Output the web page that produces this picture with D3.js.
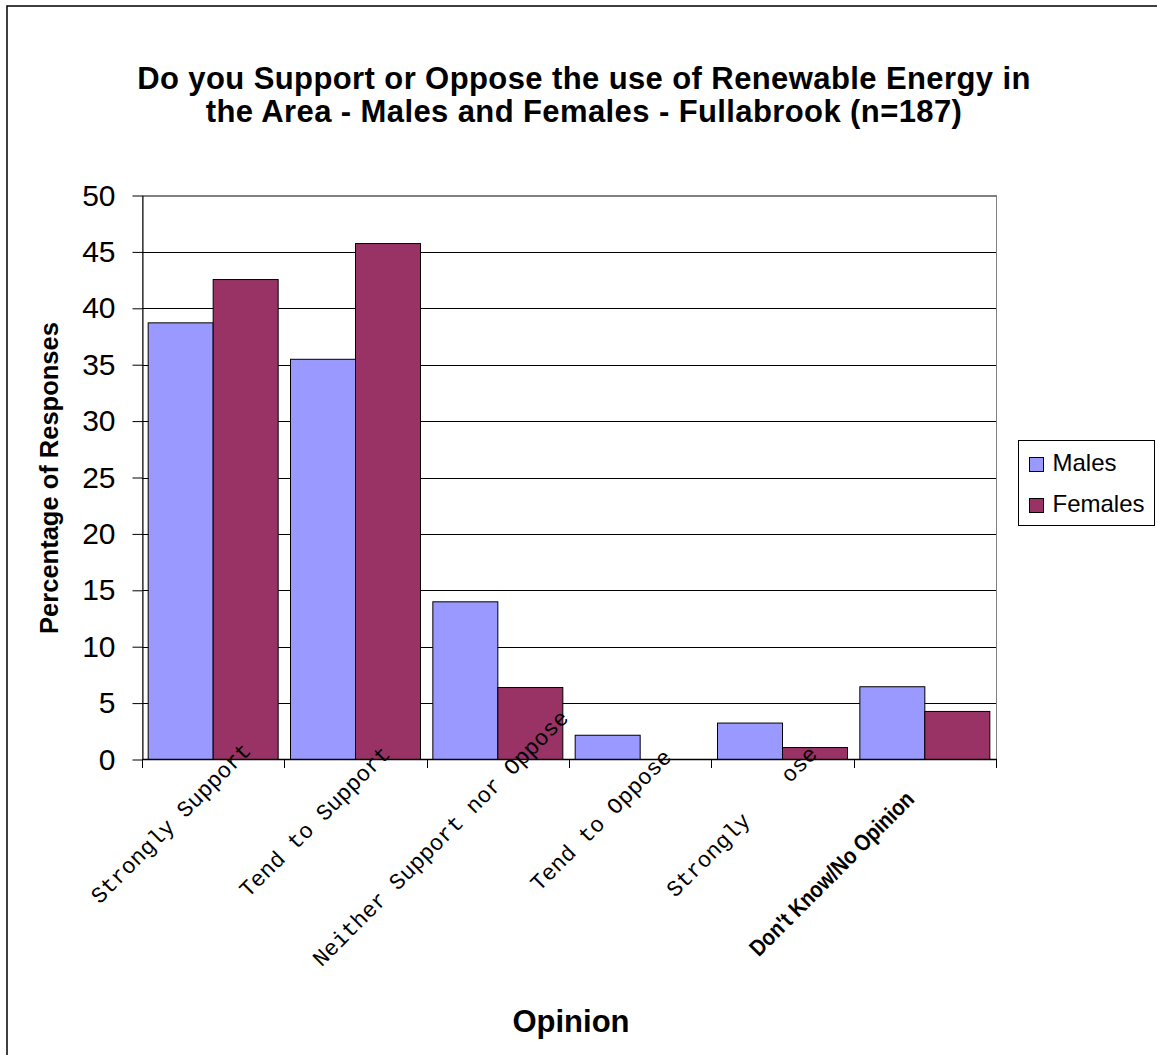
<!DOCTYPE html>
<html>
<head>
<meta charset="utf-8">
<script src="https://cdn.jsdelivr.net/npm/d3@7"></script>
<style>
  html, body { margin: 0; padding: 0; background: #fff; }
  svg { display: block; }
</style>
</head>
<body>
<script>
// ---------------- data ----------------
const titleLines = [
  "Do you Support or Oppose the use of Renewable Energy in",
  "the Area - Males and Females - Fullabrook (n=187)"
];
const categories = [
  "Strongly Support",
  "Tend to Support",
  "Neither Support nor Oppose",
  "Tend to Oppose",
  "Strongly Oppose",
  "Don't Know/No Opinion"
];
const series = ["Males", "Females"];
const males   = [38.71, 35.48, 13.98, 2.15, 3.23, 6.45];
const females = [42.55, 45.74, 6.38, 0, 1.06, 4.26];
const yTicks = [0, 5, 10, 15, 20, 25, 30, 35, 40, 45, 50];
const yAxisTitle = "Percentage of Responses";
const xAxisTitle = "Opinion";

// ---------------- layout ----------------
const W = 1157, H = 1055;
const plot = { left: 142, right: 996, top: 196, bottom: 760 };
const colors = { Males: "#9999FF", Females: "#993366" };
const sans = "'Liberation Sans', Arial, sans-serif";
const mono = "'Courier New', 'Liberation Mono', monospace";

const svg = d3.select("body").append("svg")
  .attr("width", W).attr("height", H);

svg.append("rect").attr("width", W).attr("height", H).attr("fill", "#fff");

// outer frame
svg.append("rect")
  .attr("x", 7).attr("y", 6).attr("width", 1200).attr("height", 1200)
  .attr("fill", "none").attr("stroke", "#000").attr("stroke-width", 1.5);

// scales
const y = d3.scaleLinear().domain([0, 50]).range([plot.bottom - 0.5, plot.top - 0.5]);
const x0 = d3.scaleBand().domain(categories).range([plot.left, plot.right])
  .paddingInner(0).paddingOuter(0);
const x1 = d3.scaleBand().domain(series).range([0, x0.bandwidth()])
  .paddingInner(0).paddingOuter(0.095);

const values = { Males: males, Females: females };
const rows = categories.map((c, i) => ({ cat: c, i }));

// title
svg.append("g").selectAll("text").data(titleLines).join("text")
  .attr("x", 584).attr("y", (d, i) => 89 + i * 33)
  .attr("text-anchor", "middle")
  .attr("font-family", sans).attr("font-weight", "bold").attr("font-size", 31)
  .attr("letter-spacing", 0.4)
  .attr("fill", "#000")
  .text(d => d);

// plot area border
svg.append("rect")
  .attr("x", plot.left + 0.5).attr("y", plot.top - 0.5)
  .attr("width", plot.right - plot.left).attr("height", plot.bottom - plot.top)
  .attr("fill", "#fff").attr("stroke", "#808080").attr("stroke-width", 1);

// gridlines
svg.append("g").selectAll("line").data(yTicks.filter(v => v > 0)).join("line")
  .attr("x1", plot.left).attr("x2", plot.right)
  .attr("y1", d => Math.round(y(d)) + 0.5).attr("y2", d => Math.round(y(d)) + 0.5)
  .attr("stroke", d => d === 50 ? "#808080" : "#000").attr("stroke-width", 1);

// bars
const groups = svg.append("g").selectAll("g").data(rows).join("g")
  .attr("transform", d => `translate(${x0(d.cat)},0)`);
groups.selectAll("rect")
  .data(d => series.map(s => ({ s, v: values[s][d.i] })))
  .join("rect")
  .attr("x", d => x1(d.s))
  .attr("y", d => y(d.v))
  .attr("width", x1.bandwidth())
  .attr("height", d => y(0) - y(d.v))
  .attr("fill", d => colors[d.s])
  .attr("stroke", "#000").attr("stroke-width", 1)
  .attr("visibility", d => d.v > 0 ? "visible" : "hidden");

// y axis
const yAxis = svg.append("g")
  .attr("transform", `translate(${plot.left + 0.5},0)`)
  .call(d3.axisLeft(y).tickValues(yTicks).tickSizeInner(10).tickSizeOuter(0).tickPadding(17));
yAxis.select(".domain").attr("stroke", "#000");
yAxis.selectAll(".tick line").attr("stroke", "#000");
yAxis.selectAll(".tick text")
  .attr("font-family", sans).attr("font-size", 30).attr("fill", "#000");

// x axis
const bounds = categories.map(c => x0(c)).concat([plot.right]);
svg.append("line")
  .attr("x1", plot.left).attr("x2", plot.right + 1)
  .attr("y1", plot.bottom - 0.5).attr("y2", plot.bottom - 0.5)
  .attr("stroke", "#000").attr("stroke-width", 1.5);
svg.append("g").selectAll("line").data(bounds).join("line")
  .attr("x1", d => Math.round(d) + 0.5).attr("x2", d => Math.round(d) + 0.5)
  .attr("y1", plot.bottom).attr("y2", plot.bottom + 8)
  .attr("stroke", "#000").attr("stroke-width", 1);

// x category labels (rotated -45)
const labelG = svg.append("g");
const y0 = plot.bottom - 0.5;
const lastIdx = categories.length - 1;
categories.forEach((c, i) => {
  const cx = x0(c) + x0.bandwidth() / 2;
  const t = labelG.append("text")
    .attr("text-anchor", "middle")
    .attr("dy", "0.35em")
    .attr("fill", "#000");
  let L, along;
  if (i === lastIdx) {
    t.attr("font-family", sans).attr("font-weight", "bold").attr("font-size", 23)
      .attr("textLength", 222).attr("lengthAdjust", "spacingAndGlyphs")
      .text(c);
    L = 222;
    along = 39 + 0.112 * L + 50;
  } else {
    t.attr("font-family", mono).attr("font-size", 22.5);
    if (c === "Strongly Oppose") {
      t.append("tspan").text("Strongly");
      t.append("tspan").attr("fill-opacity", 0).text(" Opp");
      t.append("tspan").text("ose");
    } else {
      t.text(c);
    }
    L = t.node().getComputedTextLength();
    along = 39 + 0.112 * L;
  }
  const mx = cx - along + 20.5, my = y0 + along;
  t.attr("transform", `translate(${mx},${my}) rotate(-45)`);
});

// y axis title
svg.append("text")
  .attr("transform", "translate(58,478) rotate(-90)")
  .attr("text-anchor", "middle")
  .attr("font-family", sans).attr("font-weight", "bold").attr("font-size", 25.5)
  .attr("fill", "#000")
  .text(yAxisTitle);

// x axis title
svg.append("text")
  .attr("x", 571).attr("y", 1032)
  .attr("text-anchor", "middle")
  .attr("font-family", sans).attr("font-weight", "bold").attr("font-size", 31)
  .attr("fill", "#000")
  .text(xAxisTitle);

// legend
const lg = svg.append("g").attr("transform", "translate(1018.5,440.5)");
lg.append("rect").attr("width", 136).attr("height", 85)
  .attr("fill", "#fff").attr("stroke", "#000").attr("stroke-width", 1);
const li = lg.selectAll("g").data(series).join("g")
  .attr("transform", (d, i) => `translate(0,${i * 41})`);
li.append("rect").attr("x", 11).attr("y", 17).attr("width", 14).attr("height", 14)
  .attr("fill", d => colors[d]).attr("stroke", "#000").attr("stroke-width", 1);
li.append("text").attr("x", 34).attr("y", 30)
  .attr("font-family", sans).attr("font-size", 24).attr("fill", "#000")
  .text(d => d);
</script>
</body>
</html>
